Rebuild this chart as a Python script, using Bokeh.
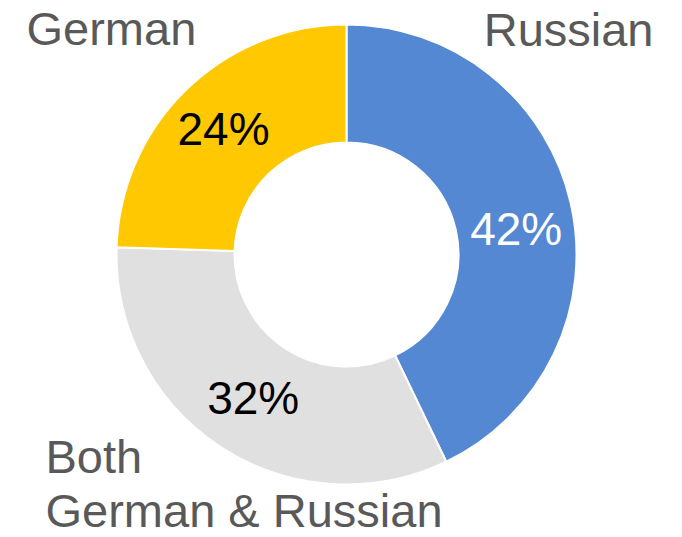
import math
from bokeh.plotting import figure
from bokeh.models import Range1d, ColumnDataSource
from bokeh.core.properties import value
from bokeh.embed import file_html
from bokeh.resources import INLINE

# ---- data ----
categories = ["Russian", "Both\nGerman & Russian", "German"]
shares = [42, 32, 24]
pct_labels = ["42%", "32%", "24%"]
colors = ["#5588D2", "#E0E0E0", "#FFC800"]
pct_colors = ["white", "black", "black"]

W, H = 682, 537
p = figure(width=W, height=H, output_backend="svg", toolbar_location=None,
           x_range=Range1d(0, W), y_range=Range1d(0, H), min_border=0)
p.axis.visible = False
p.grid.visible = False
p.outline_line_color = None
p.background_fill_color = "white"
p.border_fill_color = "white"

cx, cy = 346, 283
r_out, r_in = 230, 112

total = float(sum(shares))
starts, ends, mids = [], [], []
acc = 0.0
for s in shares:
    a0 = math.pi / 2 - 2 * math.pi * acc / total
    acc += s
    a1 = math.pi / 2 - 2 * math.pi * acc / total
    starts.append(a0)
    ends.append(a1)
    mids.append((a0 + a1) / 2)

r_mid = (r_out + r_in) / 2
lx = [cx + r_mid * math.cos(m) for m in mids]
ly = [cy + r_mid * math.sin(m) for m in mids]
dy = [13, 0, -3]  # label nudges (screen px, downward)
dx = [3, 0, -4]

src = ColumnDataSource(dict(start=starts, end=ends, color=colors,
                            lx=lx, ly=ly, lab=pct_labels, lc=pct_colors, dy=dy, dx=dx))

p.annular_wedge(x=cx, y=cy, inner_radius=r_in, outer_radius=r_out,
                start_angle="start", end_angle="end", direction="clock",
                fill_color="color", line_color="white", line_width=2, source=src)

p.text(x="lx", y="ly", text="lab", text_color="lc", source=src,
       x_offset="dx", y_offset="dy",
       text_font=value("Liberation Sans"), text_font_size="46px",
       text_align="center", text_baseline="middle")

font = value("Liberation Sans")
lab_color = "#595959"
# category labels
p.text(x=[26], y=[509], text=[categories[2]], text_font=font, text_font_size="47px",
       text_color=lab_color, text_align="left", text_baseline="middle")
p.text(x=[653], y=[508], text=[categories[0]], text_font=font, text_font_size="47px",
       text_color=lab_color, text_align="right", text_baseline="middle")
both_lines = categories[1].split("\n")
p.text(x=[45], y=[81], text=[both_lines[0]], text_font=font, text_font_size="47px",
       text_color=lab_color, text_align="left", text_baseline="middle")
p.text(x=[45], y=[27], text=[both_lines[1]], text_font=font, text_font_size="47px",
       text_color=lab_color, text_align="left", text_baseline="middle")

open("out.html", "w").write(file_html(p, INLINE))
